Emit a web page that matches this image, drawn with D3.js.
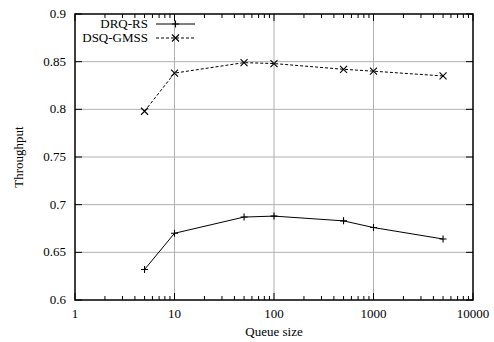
<!DOCTYPE html>
<html>
<head>
<meta charset="utf-8">
<script src="https://cdn.jsdelivr.net/npm/d3@7"></script>
<style>
  body { margin: 0; background: #fff; }
  text { font-family: "Liberation Serif", "Times New Roman", serif; font-size: 13px; fill: #000; }
</style>
</head>
<body>
<svg id="chart" width="494" height="342"></svg>
<script>
const queueSizes = [5, 10, 50, 100, 500, 1000, 5000]
const drqRs = [0.632, 0.670, 0.687, 0.688, 0.683, 0.676, 0.664]
const dsqGmss = [0.798, 0.838, 0.849, 0.848, 0.842, 0.840, 0.835]
const xTicks = [1, 10, 100, 1000, 10000]
const yTicks = [0.6, 0.65, 0.7, 0.75, 0.8, 0.85, 0.9]
const seriesNames = ['DRQ-RS', 'DSQ-GMSS']

const margin = { left: 75, right: 21, top: 14, bottom: 42 }
const width = 494, height = 342
const svg = d3.select('#chart')

const x = d3.scaleLog().domain([1, 10000]).range([margin.left, width - margin.right])
const y = d3.scaleLinear().domain([0.6, 0.9]).range([height - margin.bottom, margin.top])
const [x0, x1] = x.range()
const [y0, y1] = y.range()

// grid
const grid = svg.append('g').attr('stroke', '#b0b0b0').attr('stroke-width', 1)
grid.selectAll('line.gx').data(xTicks.slice(1, -1)).join('line')
  .attr('x1', d => x(d)).attr('x2', d => x(d)).attr('y1', y0).attr('y2', y1)
grid.selectAll('line.gy').data(yTicks.slice(1, -1)).join('line')
  .attr('y1', d => y(d)).attr('y2', d => y(d)).attr('x1', x0).attr('x2', x1)

// minor ticks on log axis
const minor = []
for (let dec = 1; dec < 10000; dec *= 10) for (let k = 2; k <= 9; k++) minor.push(dec * k)
const ticks = svg.append('g').attr('stroke', '#000').attr('stroke-width', 1)
ticks.selectAll('line.mb').data(minor).join('line')
  .attr('x1', d => x(d)).attr('x2', d => x(d)).attr('y1', y0).attr('y2', y0 - 4)
ticks.selectAll('line.mt').data(minor).join('line')
  .attr('x1', d => x(d)).attr('x2', d => x(d)).attr('y1', y1).attr('y2', y1 + 4)
ticks.selectAll('line.Mb').data(xTicks).join('line')
  .attr('x1', d => x(d)).attr('x2', d => x(d)).attr('y1', y0).attr('y2', y0 - 7)
ticks.selectAll('line.Mt').data(xTicks).join('line')
  .attr('x1', d => x(d)).attr('x2', d => x(d)).attr('y1', y1).attr('y2', y1 + 7)
ticks.selectAll('line.yl').data(yTicks).join('line')
  .attr('y1', d => y(d)).attr('y2', d => y(d)).attr('x1', x0).attr('x2', x0 + 7)
ticks.selectAll('line.yr').data(yTicks).join('line')
  .attr('y1', d => y(d)).attr('y2', d => y(d)).attr('x1', x1).attr('x2', x1 - 7)

// frame
svg.append('rect').attr('x', x0).attr('y', y1).attr('width', x1 - x0).attr('height', y0 - y1)
  .attr('fill', 'none').attr('stroke', '#000').attr('stroke-width', 1.5)

// tick labels
svg.append('g').selectAll('text').data(xTicks).join('text')
  .attr('x', d => x(d)).attr('y', y0 + 18).attr('text-anchor', 'middle').text(d => d)
svg.append('g').selectAll('text').data(yTicks).join('text')
  .attr('x', x0 - 9).attr('y', d => y(d) + 4).attr('text-anchor', 'end')
  .text(d => d3.format('')(+d.toFixed(2)))

// axis titles
svg.append('text').attr('x', (x0 + x1) / 2).attr('y', 336).attr('text-anchor', 'middle').text('Queue size')
svg.append('text').attr('transform', `translate(23,${(y0 + y1) / 2}) rotate(-90)`)
  .attr('text-anchor', 'middle').text('Throughput')

// series
const line = d3.line().x(d => x(d[0])).y(d => y(d[1]))
const series = [
  { name: seriesNames[0], values: drqRs, dash: null, mark: 'plus' },
  { name: seriesNames[1], values: dsqGmss, dash: '3,2', mark: 'cross' }
]
function marker(g, type, cx, cy) {
  const s = 3.5
  const d = type === 'plus'
    ? `M${cx - s},${cy}H${cx + s}M${cx},${cy - s}V${cy + s}`
    : `M${cx - s},${cy - s}L${cx + s},${cy + s}M${cx - s},${cy + s}L${cx + s},${cy - s}`
  g.append('path').attr('d', d).attr('stroke', '#000').attr('stroke-width', 1.1).attr('fill', 'none')
}
series.forEach((s, i) => {
  const pts = queueSizes.map((q, j) => [q, s.values[j]])
  svg.append('path').datum(pts).attr('d', line).attr('fill', 'none')
    .attr('stroke', '#000').attr('stroke-width', 1).attr('stroke-dasharray', s.dash)
  const g = svg.append('g')
  pts.forEach(p => marker(g, s.mark, x(p[0]), y(p[1])))

  // legend
  const ly = 24 + i * 14
  svg.append('text').attr('x', 148).attr('y', ly + 4).attr('text-anchor', 'end').text(s.name)
  svg.append('line').attr('x1', 156).attr('x2', 195).attr('y1', ly).attr('y2', ly)
    .attr('stroke', '#000').attr('stroke-dasharray', s.dash)
  marker(svg, s.mark, 175.5, ly)
})
</script>
</body>
</html>
